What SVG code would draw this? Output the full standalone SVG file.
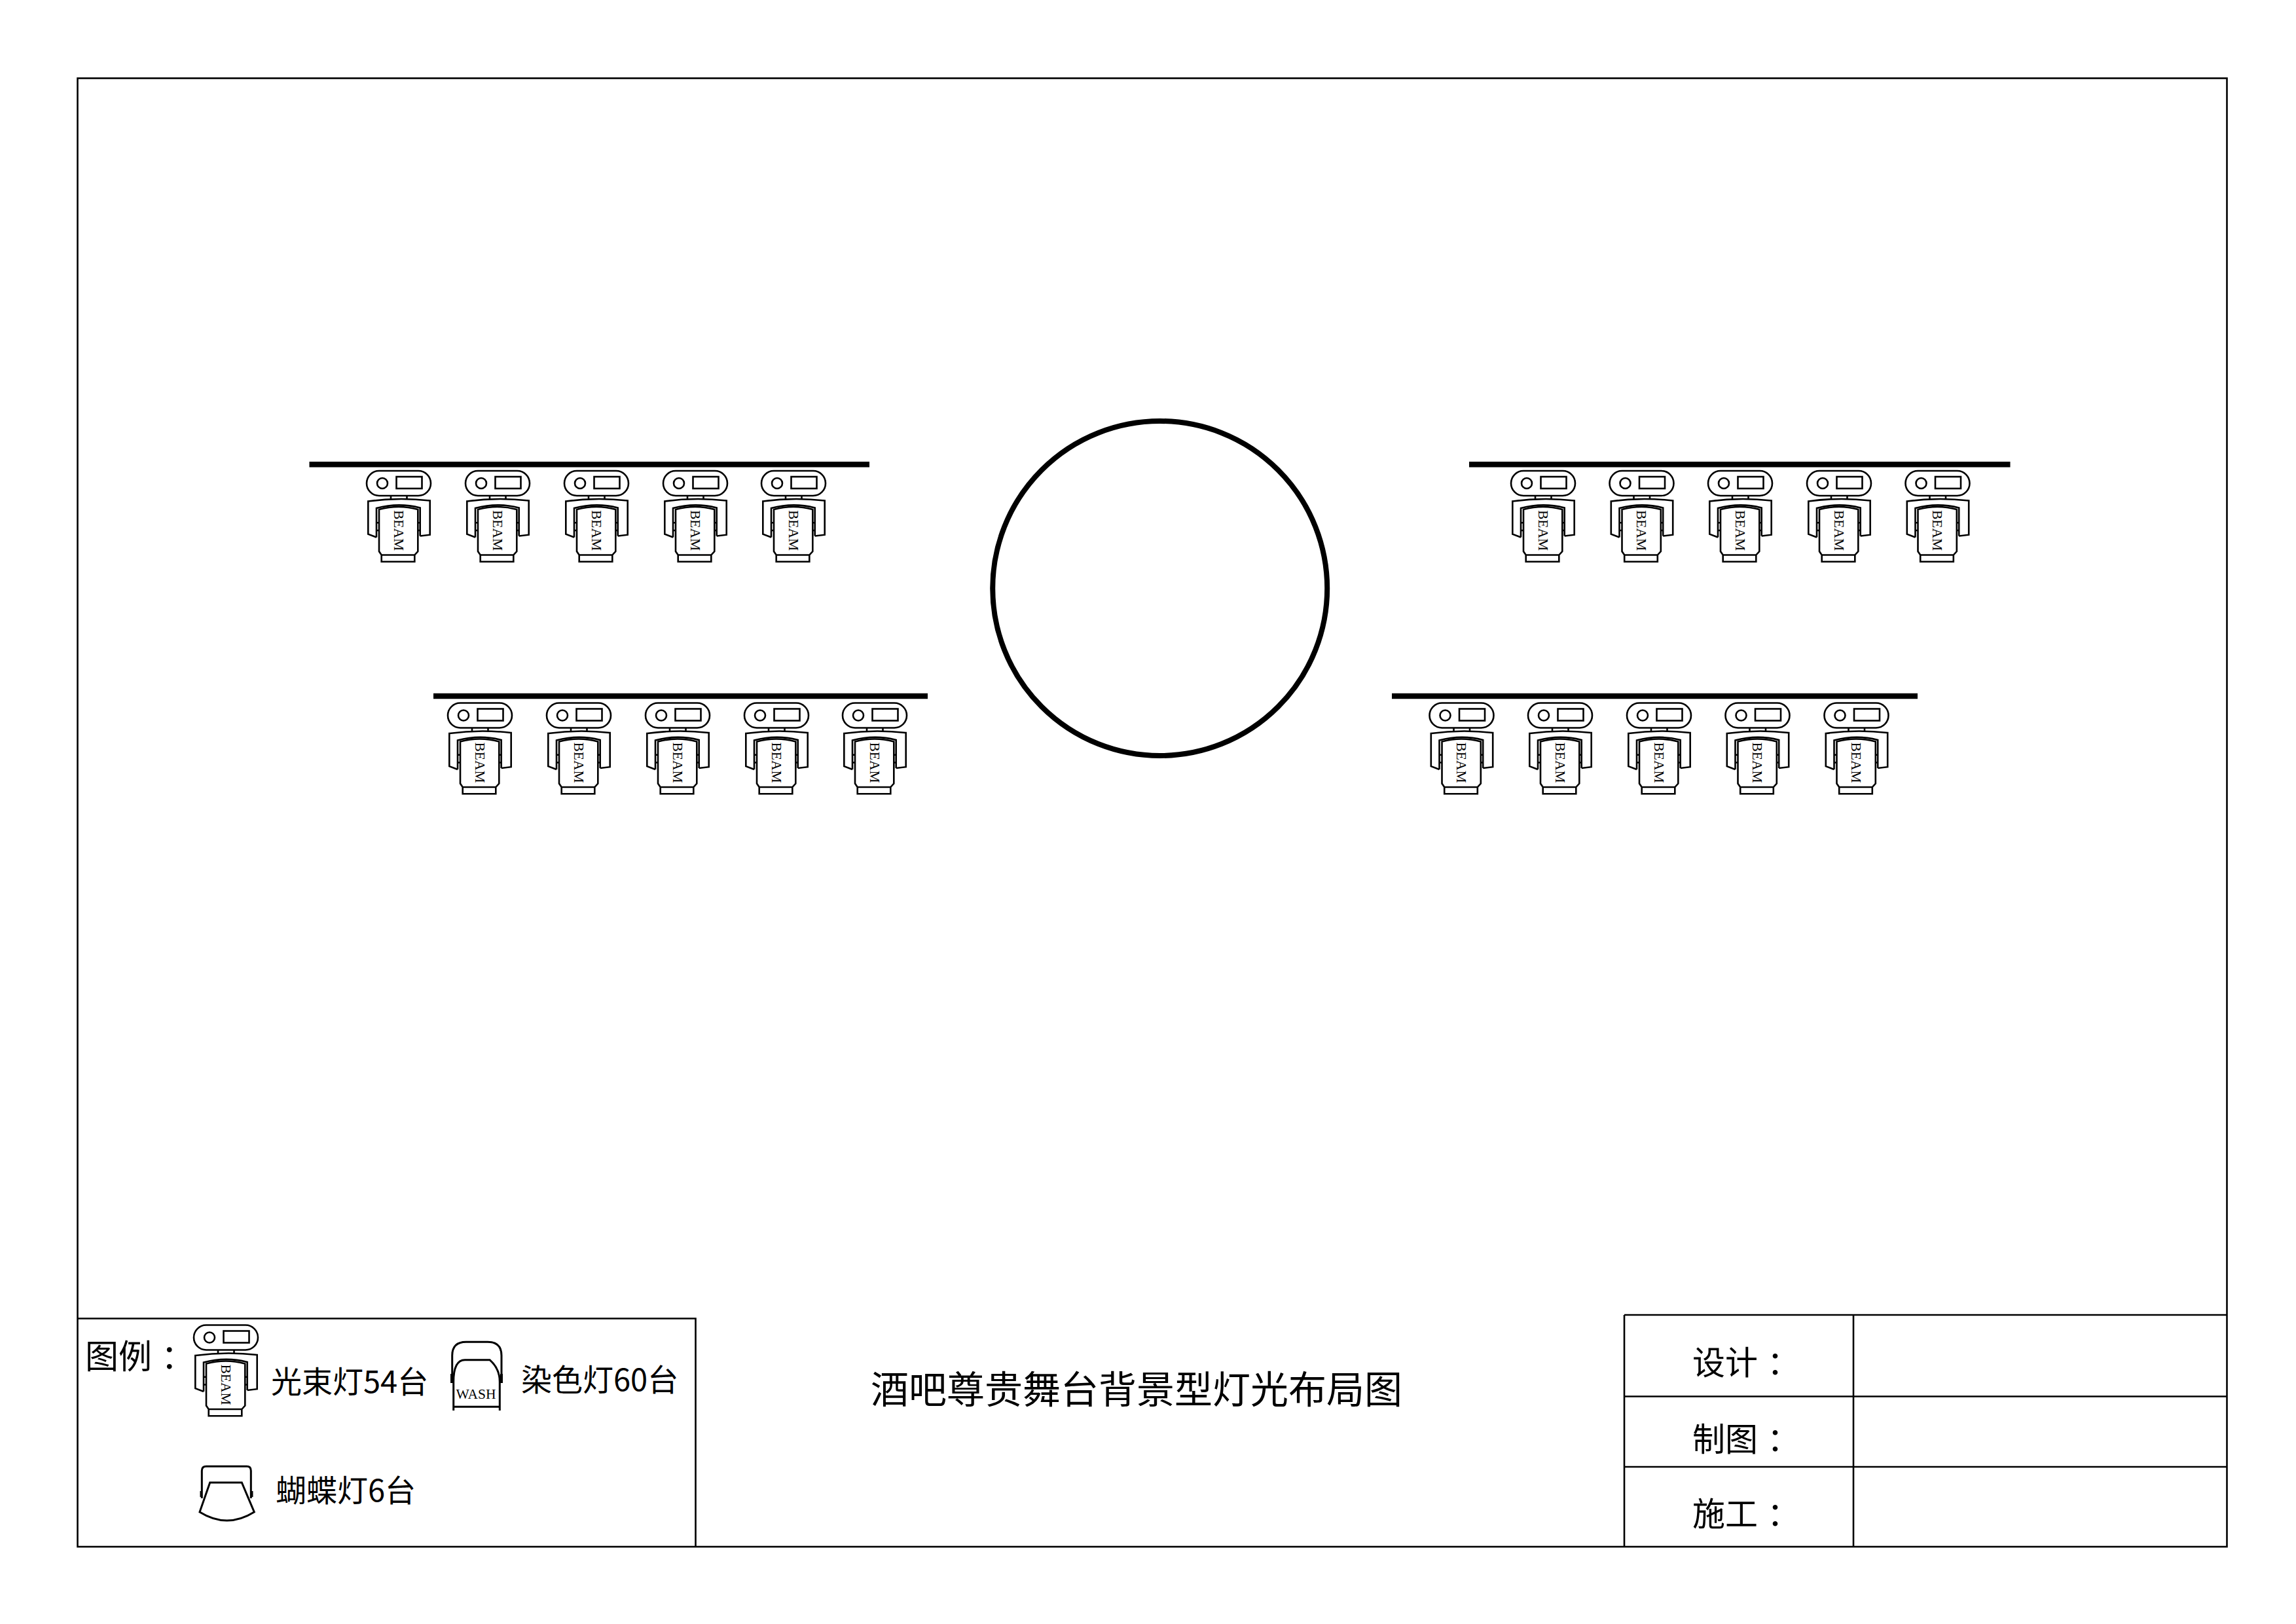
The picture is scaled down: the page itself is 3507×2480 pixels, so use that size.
<svg xmlns="http://www.w3.org/2000/svg" xmlns:xlink="http://www.w3.org/1999/xlink" width="3507" height="2480" viewBox="0 0 3507 2480">
<style>
.s{fill:none;stroke:#000;stroke-width:2.6}
.f{fill:none;stroke:#000;stroke-width:3}
.h{fill:#000;stroke:none}
.l{fill:none;stroke:#000;stroke-width:2.6}
.bar{stroke:#000;stroke-width:8.500}
.t{font-family:"Noto Sans CJK SC","Noto Sans",sans-serif;fill:#000}
.e{font-family:"Liberation Serif",serif;fill:#000}
</style>
<defs>
<g id="beam">
<rect class="s" x="1" y="1" width="98" height="38" rx="19" ry="19"/>
<circle class="s" cx="25" cy="20" r="8"/>
<rect class="s" x="46.5" y="10" width="39" height="18"/>
<path class="s" d="M38 39V45M62.500 39V45"/>
<path class="s" d="M16 102.500L3.300 97.700V47.500Q50 41 97.700 46.500V98.700L82.700 100.500"/>
<path class="s" d="M16 102.500V58Q50 49 82.700 57.500V100.500"/>
<path class="s" d="M20 124V60Q50 52 79.300 60V124L74.300 129.500H23.700ZM23.700 129.500V139.700H74.300V129.500"/>
<path class="s" d="M16 80.300H20M16 92H20M79.300 80.300H82.700M79.300 92H82.700"/>
<text class="e" font-size="21.500" transform="translate(42.700 61) rotate(90)">BEAM</text>
</g>
</defs>
<rect width="3507" height="2480" fill="#fff"/>
<g id="frame">
<rect class="l" x="118.500" y="119.500" width="3283" height="2242.500"/>
<path class="l" d="M118.500 2013.500H1062.500V2362M2481 2008H3401.500M2481 2008V2362M2831 2008V2362M2481 2132.500H3401.500M2481 2240H3401.500"/>
</g>
<g id="stage-circle"><circle cx="1771.700" cy="898.500" r="255.500" fill="none" stroke="#000" stroke-width="8"/></g>
<g id="truss-bars">
<line class="bar" x1="472.500" y1="709.300" x2="1328" y2="709.300"/>
<line class="bar" x1="2244" y1="709.300" x2="3070.500" y2="709.300"/>
<line class="bar" x1="662" y1="1063" x2="1417" y2="1063"/>
<line class="bar" x1="2126" y1="1063" x2="2929" y2="1063"/>
</g>
<g id="row1-left">
<use xlink:href="#beam" x="559" y="718"/><use xlink:href="#beam" x="710" y="718"/><use xlink:href="#beam" x="861" y="718"/><use xlink:href="#beam" x="1012" y="718"/><use xlink:href="#beam" x="1162" y="718"/>
</g>
<g id="row1-right">
<use xlink:href="#beam" x="2307" y="718"/><use xlink:href="#beam" x="2457.500" y="718"/><use xlink:href="#beam" x="2608" y="718"/><use xlink:href="#beam" x="2759" y="718"/><use xlink:href="#beam" x="2909.500" y="718"/>
</g>
<g id="row2-left">
<use xlink:href="#beam" x="683" y="1072.500"/><use xlink:href="#beam" x="834" y="1072.500"/><use xlink:href="#beam" x="985" y="1072.500"/><use xlink:href="#beam" x="1136" y="1072.500"/><use xlink:href="#beam" x="1286" y="1072.500"/>
</g>
<g id="row2-right">
<use xlink:href="#beam" x="2182.500" y="1072.500"/><use xlink:href="#beam" x="2333" y="1072.500"/><use xlink:href="#beam" x="2484" y="1072.500"/><use xlink:href="#beam" x="2634.500" y="1072.500"/><use xlink:href="#beam" x="2785.500" y="1072.500"/>
</g>
<g id="legend">
<text class="t" x="130" y="2090" font-size="51">图例<tspan dx="14">：</tspan></text>
<use xlink:href="#beam" x="295" y="2022.500"/>
<text class="t" x="414" y="2127" font-size="47">光束灯54台</text>
<g id="legend-wash">
<path class="f" d="M690.700 2100V2070Q690.700 2049.300 712 2049.300H745Q766 2049.300 766 2070V2100"/>
<path class="f" d="M692.700 2154V2110Q692.700 2077 710 2076.700H748Q763.300 2090 763.300 2110V2154M692.700 2148.300H763.300"/>
<rect class="h" x="688" y="2098" width="4" height="14"/><rect class="h" x="764" y="2098" width="4" height="14"/>
<text class="e" x="696.500" y="2135.700" font-size="21.500">WASH</text>
</g>
<text class="t" x="796" y="2124" font-size="47">染色灯60台</text>
<g id="legend-butterfly">
<path class="f" d="M308.300 2288V2246Q308.300 2239.300 315 2239.300H377Q383.300 2239.300 383.300 2246V2288"/>
<path class="f" d="M320.700 2264H369.300L388.300 2309Q346.700 2335 305 2309Z"/>
<rect class="h" x="305.500" y="2277" width="3" height="9"/><rect class="h" x="383.500" y="2277" width="3" height="9"/>
</g>
<text class="t" x="421" y="2293" font-size="47">蝴蝶灯6台</text>
</g>
<g id="title"><text class="t" x="1330" y="2143" font-size="58">酒吧尊贵舞台背景型灯光布局图</text></g>
<g id="title-block">
<text class="t" x="2585" y="2099" font-size="50">设计<tspan dx="14">：</tspan></text>
<text class="t" x="2585" y="2216" font-size="50">制图<tspan dx="14">：</tspan></text>
<text class="t" x="2585" y="2330" font-size="50">施工<tspan dx="14">：</tspan></text>
</g>
</svg>
